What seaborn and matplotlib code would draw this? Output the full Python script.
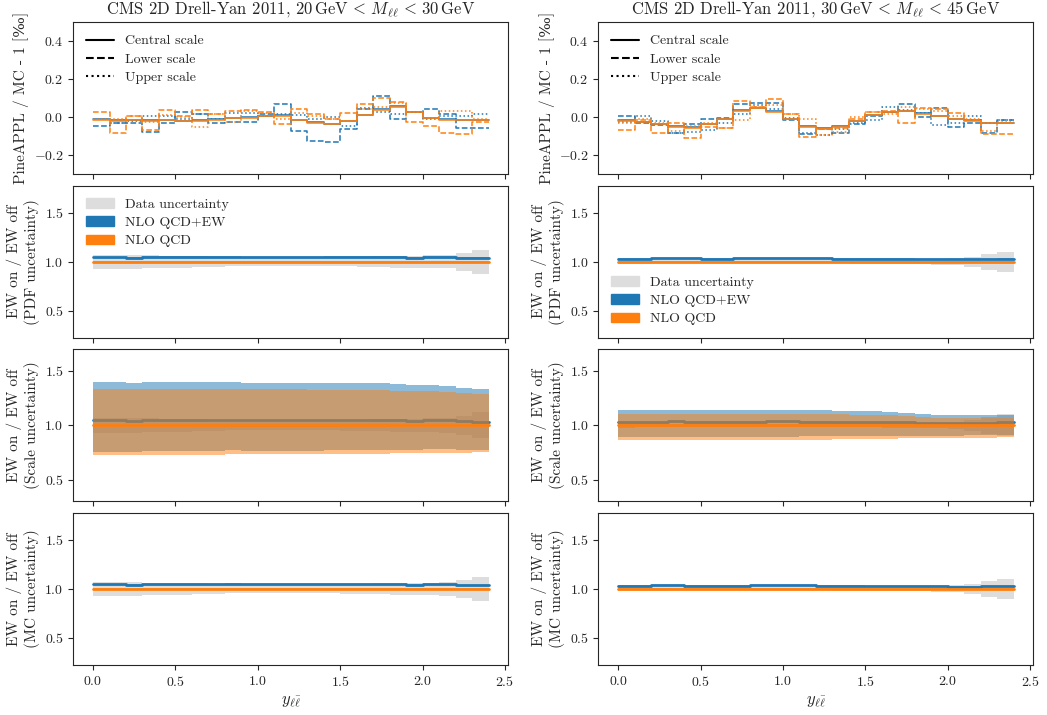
import matplotlib
matplotlib.use("Agg")
import matplotlib.pyplot as plt
from matplotlib.lines import Line2D
from matplotlib.patches import Patch
import numpy as np
import pandas as pd
import seaborn as sns

sns.set_style("ticks")
plt.rcParams["font.family"] = ["cmr10", "DejaVu Serif"]
plt.rcParams["mathtext.fontset"] = "cm"
plt.rcParams["axes.formatter.use_mathtext"] = True
plt.rcParams["font.size"] = 10

BLUE = "#1f77b4"
ORANGE = "#ff7f0e"
GREY = "#dddddd"

# rapidity bin edges
edges = [0.0, 0.1, 0.2, 0.3, 0.4, 0.5, 0.6, 0.7, 0.8, 0.9, 1.0, 1.1, 1.2,
         1.3, 1.4, 1.5, 1.6, 1.7, 1.8, 1.9, 2.0, 2.1, 2.2, 2.3, 2.4]

titles = [r"CMS 2D Drell-Yan 2011, $20\,\mathrm{GeV}\, <\, M_{\ell\ell}\, <\, 30\,\mathrm{GeV}$",
          r"CMS 2D Drell-Yan 2011, $30\,\mathrm{GeV}\, <\, M_{\ell\ell}\, <\, 45\,\mathrm{GeV}$"]

# PineAPPL / MC - 1 [permille], 20-30 GeV
pa_ew_central_l = [-0.010, -0.016, -0.014, -0.016, -0.012, -0.019, -0.016, -0.010, -0.004, 0.000, 0.005, 0.010,
                   -0.012, -0.026, -0.035, -0.019, 0.014, 0.041, 0.058, 0.027, -0.003, -0.010, -0.012, -0.012]
pa_qcd_central_l = [-0.012, -0.018, -0.016, -0.018, -0.014, -0.021, -0.018, -0.012, -0.005, -0.002, 0.004, 0.009,
                    -0.014, -0.028, -0.037, -0.021, 0.012, 0.039, 0.056, 0.025, -0.005, -0.012, -0.014, -0.014]
pa_ew_lower_l = [-0.044, -0.032, -0.028, -0.075, -0.032, 0.026, 0.019, -0.032, -0.025, -0.025, 0.016, 0.068,
                 -0.070, -0.125, -0.130, -0.063, 0.042, 0.114, -0.007, 0.028, 0.042, 0.016, -0.054, -0.058]
pa_qcd_lower_l = [0.030, -0.081, 0.007, -0.067, 0.039, 0.007, 0.039, 0.018, 0.035, 0.039, 0.025, -0.037,
                  0.042, 0.018, -0.011, 0.021, 0.068, 0.100, 0.082, -0.025, -0.044, -0.084, -0.089, -0.023]
pa_ew_upper_l = [-0.011, -0.028, -0.018, 0.007, 0.007, -0.011, 0.016, -0.009, 0.021, 0.021, 0.004, 0.016,
                 0.011, -0.011, 0.000, -0.046, 0.047, 0.030, 0.019, 0.030, -0.009, 0.004, 0.004, 0.016]
pa_qcd_upper_l = [-0.009, -0.011, 0.007, -0.023, 0.012, 0.000, -0.049, 0.018, -0.023, 0.033, 0.021, -0.011,
                  0.021, 0.004, -0.011, -0.018, 0.042, 0.056, 0.077, 0.025, -0.005, 0.033, 0.033, -0.011]

# PineAPPL / MC - 1 [permille], 30-45 GeV
pa_ew_central_r = [-0.016, -0.024, -0.033, -0.047, -0.052, -0.035, -0.009, 0.037, 0.049, 0.032, -0.009, -0.047,
                   -0.058, -0.047, -0.019, 0.014, 0.028, 0.035, 0.020, 0.006, -0.007, -0.016, -0.030, -0.030]
pa_qcd_central_r = [-0.018, -0.026, -0.035, -0.049, -0.054, -0.037, -0.011, 0.035, 0.047, 0.030, -0.011, -0.049,
                    -0.060, -0.049, -0.021, 0.012, 0.026, 0.033, 0.018, 0.004, -0.009, -0.018, -0.032, -0.032]
pa_ew_lower_r = [0.009, -0.032, -0.040, -0.084, -0.037, -0.011, -0.005, 0.070, 0.074, 0.077, -0.014, -0.089,
                 -0.063, -0.081, -0.035, 0.007, 0.025, 0.068, 0.000, 0.047, -0.049, -0.032, -0.084, -0.014]
pa_qcd_lower_r = [-0.067, -0.014, -0.081, -0.028, -0.111, -0.049, -0.054, 0.086, 0.056, 0.096, 0.016, -0.105,
                  -0.063, -0.054, -0.011, 0.025, 0.035, -0.028, 0.051, 0.042, 0.021, -0.014, -0.089, -0.089]
pa_ew_upper_r = [-0.023, 0.004, -0.018, -0.084, -0.075, -0.067, -0.032, 0.018, 0.065, 0.042, -0.005, -0.084,
                 -0.093, -0.061, -0.032, -0.014, 0.056, 0.039, 0.021, -0.040, -0.028, 0.009, -0.032, -0.014]
pa_qcd_upper_r = [-0.032, -0.011, -0.028, -0.070, -0.046, -0.028, -0.058, -0.014, 0.053, 0.065, 0.016, -0.011,
                  -0.093, -0.075, 0.000, 0.025, 0.016, 0.056, 0.042, 0.033, 0.004, -0.011, -0.070, -0.026]

# EW on / EW off (NLO QCD+EW over NLO QCD)
ew_ratio_l = [1.045, 1.045, 1.043, 1.047, 1.047, 1.046, 1.046, 1.046, 1.051, 1.045, 1.045, 1.045,
              1.045, 1.045, 1.047, 1.047, 1.048, 1.048, 1.047, 1.042, 1.046, 1.046, 1.038, 1.035]
ew_ratio_r = [1.033, 1.033, 1.035, 1.036, 1.034, 1.033, 1.033, 1.034, 1.035, 1.036, 1.036, 1.035,
              1.034, 1.032, 1.031, 1.030, 1.029, 1.028, 1.026, 1.025, 1.024, 1.024, 1.026, 1.027]

# relative data uncertainty
data_unc_l = [0.072, 0.072, 0.070, 0.065, 0.062, 0.060, 0.055, 0.050, 0.045, 0.042, 0.040, 0.040,
              0.040, 0.042, 0.045, 0.048, 0.050, 0.055, 0.060, 0.062, 0.065, 0.068, 0.090, 0.120]
data_unc_r = [0.020, 0.018, 0.017, 0.016, 0.015, 0.015, 0.015, 0.015, 0.015, 0.015, 0.015, 0.016,
              0.016, 0.017, 0.018, 0.019, 0.020, 0.022, 0.025, 0.028, 0.035, 0.050, 0.080, 0.100]

# relative PDF uncertainty
pdf_unc_l = [0.008, 0.008, 0.008, 0.008, 0.008, 0.008, 0.008, 0.008, 0.008, 0.008, 0.008, 0.008,
             0.008, 0.008, 0.008, 0.008, 0.008, 0.008, 0.008, 0.008, 0.008, 0.009, 0.010, 0.010]
pdf_unc_r = [0.006, 0.006, 0.006, 0.006, 0.006, 0.006, 0.006, 0.006, 0.006, 0.006, 0.006, 0.006,
             0.006, 0.006, 0.006, 0.006, 0.006, 0.006, 0.006, 0.006, 0.006, 0.007, 0.007, 0.008]

# relative scale uncertainty (up / down)
scale_up_l = [0.337, 0.337, 0.336, 0.336, 0.335, 0.335, 0.334, 0.334, 0.333, 0.333, 0.332, 0.331,
              0.330, 0.329, 0.328, 0.327, 0.326, 0.324, 0.320, 0.317, 0.312, 0.303, 0.293, 0.290]
scale_dn_l = [-0.275, -0.275, -0.274, -0.273, -0.272, -0.271, -0.270, -0.270, -0.268, -0.268, -0.267, -0.266,
              -0.266, -0.265, -0.264, -0.263, -0.262, -0.261, -0.259, -0.258, -0.255, -0.253, -0.251, -0.250]
scale_up_r = [0.105, 0.105, 0.106, 0.105, 0.106, 0.106, 0.106, 0.106, 0.105, 0.104, 0.104, 0.104,
              0.103, 0.101, 0.098, 0.095, 0.091, 0.085, 0.078, 0.072, 0.071, 0.070, 0.068, 0.068]
scale_dn_r = [-0.138, -0.138, -0.138, -0.138, -0.138, -0.137, -0.137, -0.137, -0.136, -0.136, -0.135, -0.133,
              -0.131, -0.130, -0.128, -0.126, -0.124, -0.121, -0.118, -0.116, -0.115, -0.114, -0.112, -0.110]

# relative MC uncertainty
mc_unc_l = [0.005, 0.005, 0.005, 0.005, 0.005, 0.005, 0.005, 0.006, 0.006, 0.005, 0.005, 0.005,
            0.005, 0.005, 0.005, 0.005, 0.005, 0.005, 0.005, 0.005, 0.005, 0.006, 0.006, 0.007]
mc_unc_r = [0.004, 0.004, 0.004, 0.004, 0.004, 0.004, 0.004, 0.004, 0.004, 0.004, 0.004, 0.004,
            0.004, 0.004, 0.004, 0.004, 0.004, 0.004, 0.004, 0.004, 0.004, 0.005, 0.005, 0.006]


def ext(values):
    """Repeat the last bin value so steps-post covers the last bin."""
    return np.append(np.asarray(values, dtype=float), values[-1])


def pineappl_frame(curves):
    rows = []
    for (order, scale), vals in curves.items():
        for x, v in zip(edges, ext(vals)):
            rows.append({"y": x, "delta": v, "order": order, "scale": scale})
    return pd.DataFrame(rows)


def draw_ratio(ax, ew_ratio, data_unc, up, dn):
    x = np.array(edges)
    ew = ext(ew_ratio)
    du = ext(data_unc)
    ax.fill_between(x, 1 - du, 1 + du, step="post", color=GREY, linewidth=0, zorder=1)
    ax.fill_between(x, ew * (1 + ext(dn)), ew * (1 + ext(up)), step="post",
                    color=BLUE, alpha=0.5, linewidth=0, zorder=2)
    sns.lineplot(x=x, y=ew, drawstyle="steps-post", color=BLUE, linewidth=2,
                 estimator=None, sort=False, ax=ax, zorder=3)
    one = np.ones(len(x))
    ax.fill_between(x, one * (1 + ext(dn)), one * (1 + ext(up)), step="post",
                    color=ORANGE, alpha=0.5, linewidth=0, zorder=4)
    sns.lineplot(x=x, y=one, drawstyle="steps-post", color=ORANGE, linewidth=2,
                 estimator=None, sort=False, ax=ax, zorder=5)


columns = [
    dict(title=titles[0],
         curves={("ew", "Central"): pa_ew_central_l, ("ew", "Lower"): pa_ew_lower_l, ("ew", "Upper"): pa_ew_upper_l,
                 ("qcd", "Central"): pa_qcd_central_l, ("qcd", "Lower"): pa_qcd_lower_l, ("qcd", "Upper"): pa_qcd_upper_l},
         ratio=ew_ratio_l, data=data_unc_l, pdf=pdf_unc_l, up=scale_up_l, dn=scale_dn_l, mc=mc_unc_l,
         legend_loc="upper left"),
    dict(title=titles[1],
         curves={("ew", "Central"): pa_ew_central_r, ("ew", "Lower"): pa_ew_lower_r, ("ew", "Upper"): pa_ew_upper_r,
                 ("qcd", "Central"): pa_qcd_central_r, ("qcd", "Lower"): pa_qcd_lower_r, ("qcd", "Upper"): pa_qcd_upper_r},
         ratio=ew_ratio_r, data=data_unc_r, pdf=pdf_unc_r, up=scale_up_r, dn=scale_dn_r, mc=mc_unc_r,
         legend_loc="lower left"),
]

fig, axs = plt.subplots(nrows=4, ncols=2, figsize=(10.47, 7.15), dpi=100, sharex=True)
fig.subplots_adjust(left=0.07, right=0.987, bottom=0.07, top=0.969, hspace=0.075, wspace=0.207)

for j, col in enumerate(columns):
    ax = axs[0][j]
    df = pineappl_frame(col["curves"])
    sns.lineplot(data=df, x="y", y="delta", hue="order", style="scale",
                 palette={"ew": BLUE, "qcd": ORANGE},
                 dashes={"Central": "", "Lower": (3.7, 1.6), "Upper": (1, 1.65)},
                 style_order=["Central", "Lower", "Upper"],
                 drawstyle="steps-post", estimator=None, linewidth=1.1, legend=False, ax=ax)
    ax.set_ylim(-0.3, 0.5)
    ax.set_yticks([-0.2, 0.0, 0.2, 0.4])
    ax.set_title(col["title"], fontsize=12)
    ax.set_ylabel("PineAPPL / MC - 1 [‰]", fontsize=11, labelpad=3)
    ax.legend(handles=[Line2D([], [], color="k", linestyle="-", linewidth=1.5),
                       Line2D([], [], color="k", linestyle="--", linewidth=1.5),
                       Line2D([], [], color="k", linestyle=":", linewidth=1.5)],
              labels=["Central scale", "Lower scale", "Upper scale"],
              loc="upper left", frameon=False, labelspacing=0.4)

    # PDF uncertainty
    draw_ratio(axs[1][j], col["ratio"], col["data"], col["pdf"], [-u for u in col["pdf"]])
    axs[1][j].set_ylabel("EW on / EW off\n(PDF uncertainty)", fontsize=11, labelpad=3)
    axs[1][j].legend(handles=[Patch(color=GREY), Patch(color=BLUE), Patch(color=ORANGE)],
                     labels=["Data uncertainty", "NLO QCD+EW", "NLO QCD"],
                     loc=col["legend_loc"], frameon=False, labelspacing=0.4)

    # scale uncertainty
    draw_ratio(axs[2][j], col["ratio"], col["data"], col["up"], col["dn"])
    axs[2][j].set_ylabel("EW on / EW off\n(Scale uncertainty)", fontsize=11, labelpad=3)

    # MC uncertainty
    draw_ratio(axs[3][j], col["ratio"], col["data"], col["mc"], [-u for u in col["mc"]])
    axs[3][j].set_ylabel("EW on / EW off\n(MC uncertainty)", fontsize=11, labelpad=3)

    for i in (1, 3):
        axs[i][j].set_ylim(0.225, 1.775)
    axs[2][j].set_ylim(0.3, 1.7)
    for i in (1, 2, 3):
        axs[i][j].set_yticks([0.5, 1.0, 1.5])

    axs[3][j].set_xlabel(r"$y_{\ell\bar{\ell}}$", fontsize=12)
    axs[3][j].set_xticks([0.0, 0.5, 1.0, 1.5, 2.0, 2.5])

plt.savefig("out.png", dpi=100)
